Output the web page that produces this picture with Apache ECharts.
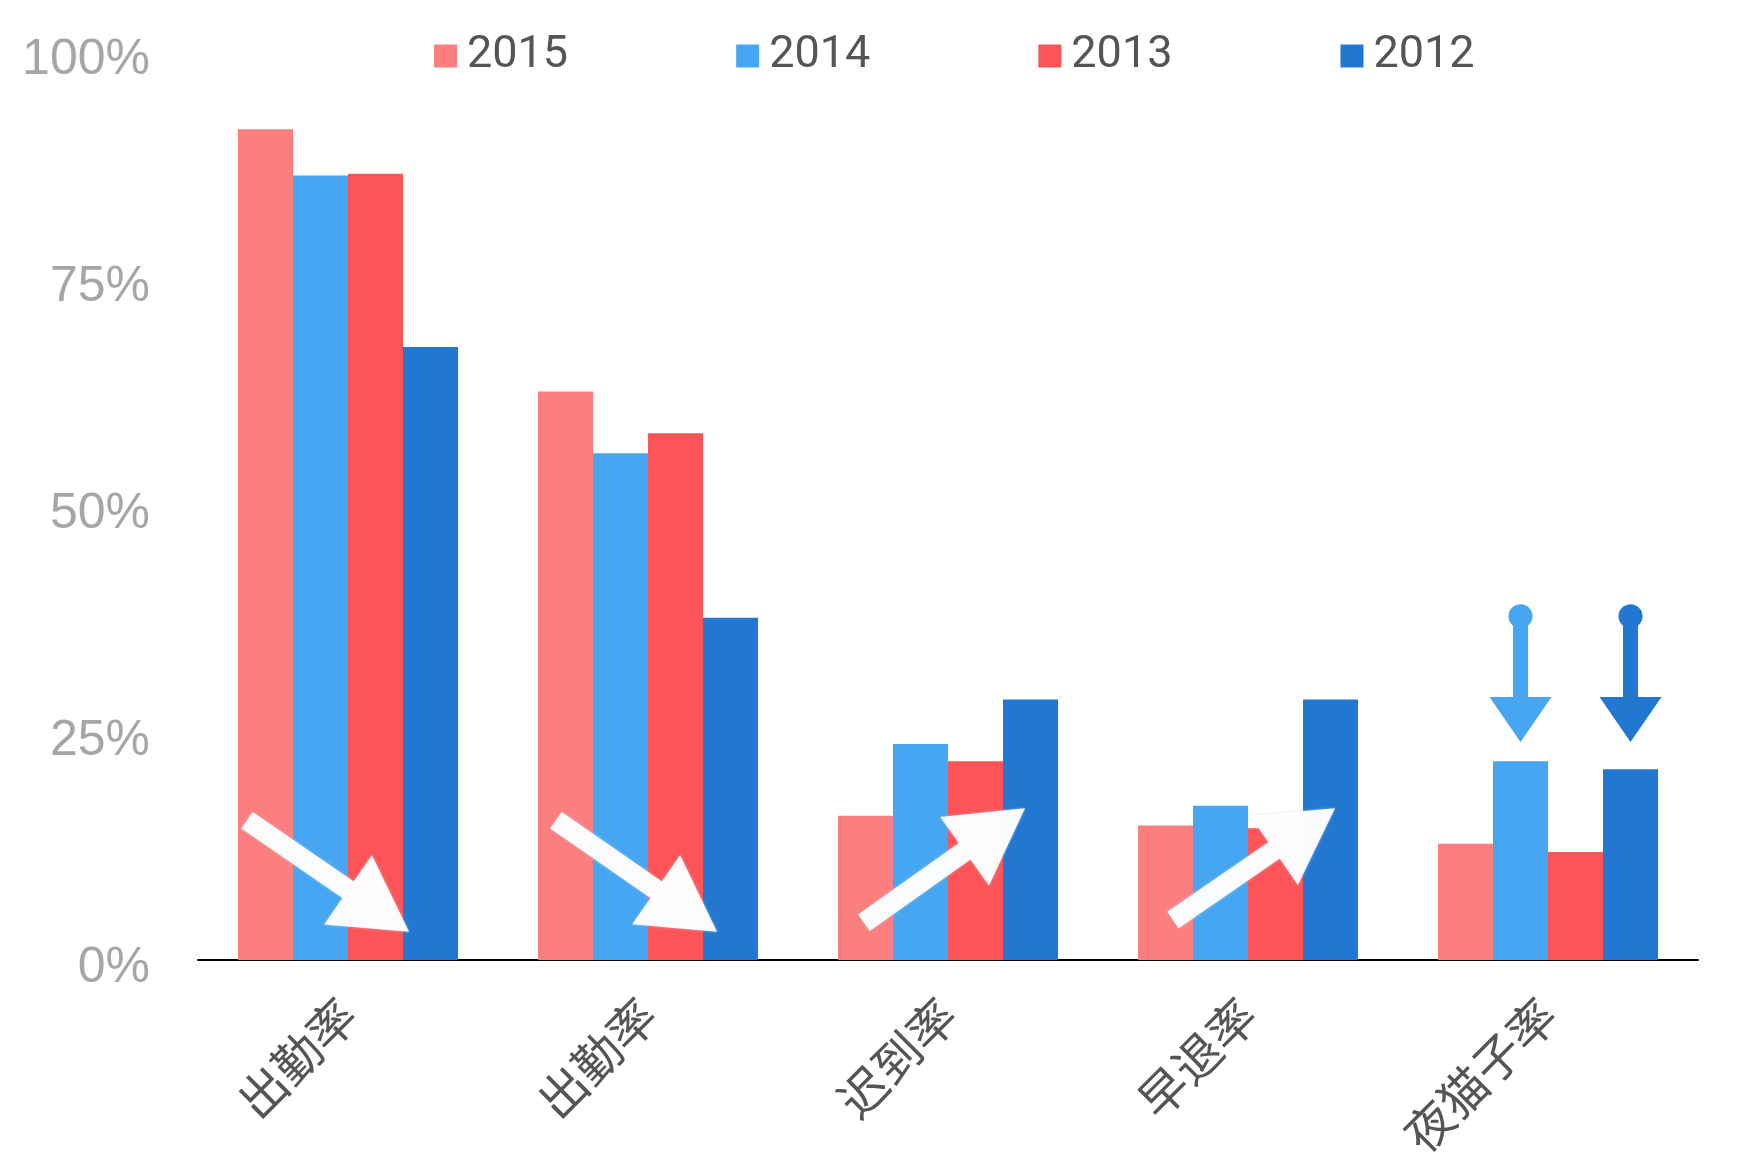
<!DOCTYPE html>
<html>
<head>
<meta charset="utf-8">
<script src="https://cdn.jsdelivr.net/npm/echarts@6/dist/echarts.min.js"></script>
<style>html,body{margin:0;padding:0;background:#fff}#c{width:1744px;height:1174px}</style>
</head>
<body>
<div id="c"></div>
<script>
var categories = ['出勤率', '出勤率', '迟到率', '早退率', '夜猫子率'];
var seriesNames = ['2015', '2014', '2013', '2012'];
var s2015 = [91.5, 62.6, 15.9, 14.8, 12.8];
var s2014 = [86.4, 55.8, 23.8, 17.0, 21.9];
var s2013 = [86.6, 58.0, 21.9, 14.5, 11.9];
var s2012 = [67.5, 37.7, 28.7, 28.7, 21.0];
var yTicks = [0, 25, 50, 75, 100];
var colors = ['#FD7E7E', '#47A6F2', '#FE5458', '#2277D0'];

var chart = echarts.init(document.getElementById('c'));
var BW = 55;
function mk(name, data, color) {
  return { name: name, type: 'bar', data: data, barWidth: BW, barGap: '0%',
    itemStyle: { color: color }, silent: true };
}
chart.setOption({
  animation: false,
  backgroundColor: '#fff',
  legend: {
    left: 429, top: 28, itemWidth: 23, itemHeight: 23, itemGap: 168,
    icon: 'rect',
    data: seriesNames,
    textStyle: { fontFamily: 'Roboto', fontSize: 45, color: '#555', padding: [0, 0, 0, 5], lineHeight: 46 }
  },
  grid: { left: 198, right: 46, top: 52, bottom: 214 },
  xAxis: {
    type: 'category', data: categories,
    axisLine: { lineStyle: { color: '#000', width: 2 } },
    axisTick: { show: false },
    axisLabel: { rotate: 45, interval: 0, margin: 47, fontSize: 48, color: '#555',
      fontFamily: 'Noto Sans CJK SC' }
  },
  yAxis: {
    type: 'value', min: yTicks[0], max: yTicks[yTicks.length - 1], interval: 25,
    axisLine: { show: false }, axisTick: { show: false }, splitLine: { show: false },
    axisLabel: { formatter: '{value}%', fontSize: 50, color: '#A6A6A6', margin: 48,
      verticalAlign: 'top', lineHeight: 16, fontFamily: 'Liberation Sans' }
  },
  series: [
    mk(seriesNames[0], s2015, colors[0]),
    mk(seriesNames[1], s2014, colors[1]),
    mk(seriesNames[2], s2013, colors[2]),
    mk(seriesNames[3], s2012, colors[3])
  ]
});

// decorative hand-drawn arrows, positioned relative to the axes
function px(cat, dx, v) {
  var p = chart.convertToPixel({ xAxisIndex: 0, yAxisIndex: 0 }, [cat, v]);
  return [p[0] + dx, p[1]];
}
function arrowPts(S, E, w, L, hw) {
  var dx = E[0] - S[0], dy = E[1] - S[1];
  var len = Math.sqrt(dx * dx + dy * dy);
  var ux = dx / len, uy = dy / len, nx = -uy, ny = ux;
  var B = [E[0] - ux * L, E[1] - uy * L];
  return [
    [S[0] + nx * w / 2, S[1] + ny * w / 2],
    [B[0] + nx * w / 2, B[1] + ny * w / 2],
    [B[0] + nx * hw, B[1] + ny * hw],
    E,
    [B[0] - nx * hw, B[1] - ny * hw],
    [B[0] - nx * w / 2, B[1] - ny * w / 2],
    [S[0] - nx * w / 2, S[1] - ny * w / 2]
  ];
}
var graphics = [];
function whiteArrow(cat, dx1, v1, dx2, v2) {
  graphics.push({
    type: 'polygon', silent: true, z: 100,
    shape: { points: arrowPts(px(cat, dx1, v1), px(cat, dx2, v2), 20, 74, 42) },
    style: { fill: 'rgba(255,255,255,0.95)', shadowBlur: 3, shadowColor: 'rgba(190,215,245,0.7)' }
  });
}
whiteArrow(0, -101, 15.4, 61, 3.1);
whiteArrow(1, -92, 15.4, 69, 3.1);
whiteArrow(2, -84, 4.1, 77, 16.7);
whiteArrow(3, -75, 4.4, 87, 16.7);
function blueArrow(barIdx, color) {
  var dx = (barIdx - 1.5) * BW;
  var S = px(4, dx, 38.4), E = px(4, dx, 24.0);
  graphics.push({
    type: 'polygon', silent: true, z: 100,
    shape: { points: arrowPts(S, E, 15, 45, 31) },
    style: { fill: color }
  });
  graphics.push({
    type: 'circle', silent: true, z: 100,
    shape: { cx: S[0], cy: S[1] + 5, r: 12 },
    style: { fill: color }
  });
}
blueArrow(1, colors[1]);
blueArrow(3, colors[3]);
chart.setOption({ graphic: graphics });
</script>
</body>
</html>
